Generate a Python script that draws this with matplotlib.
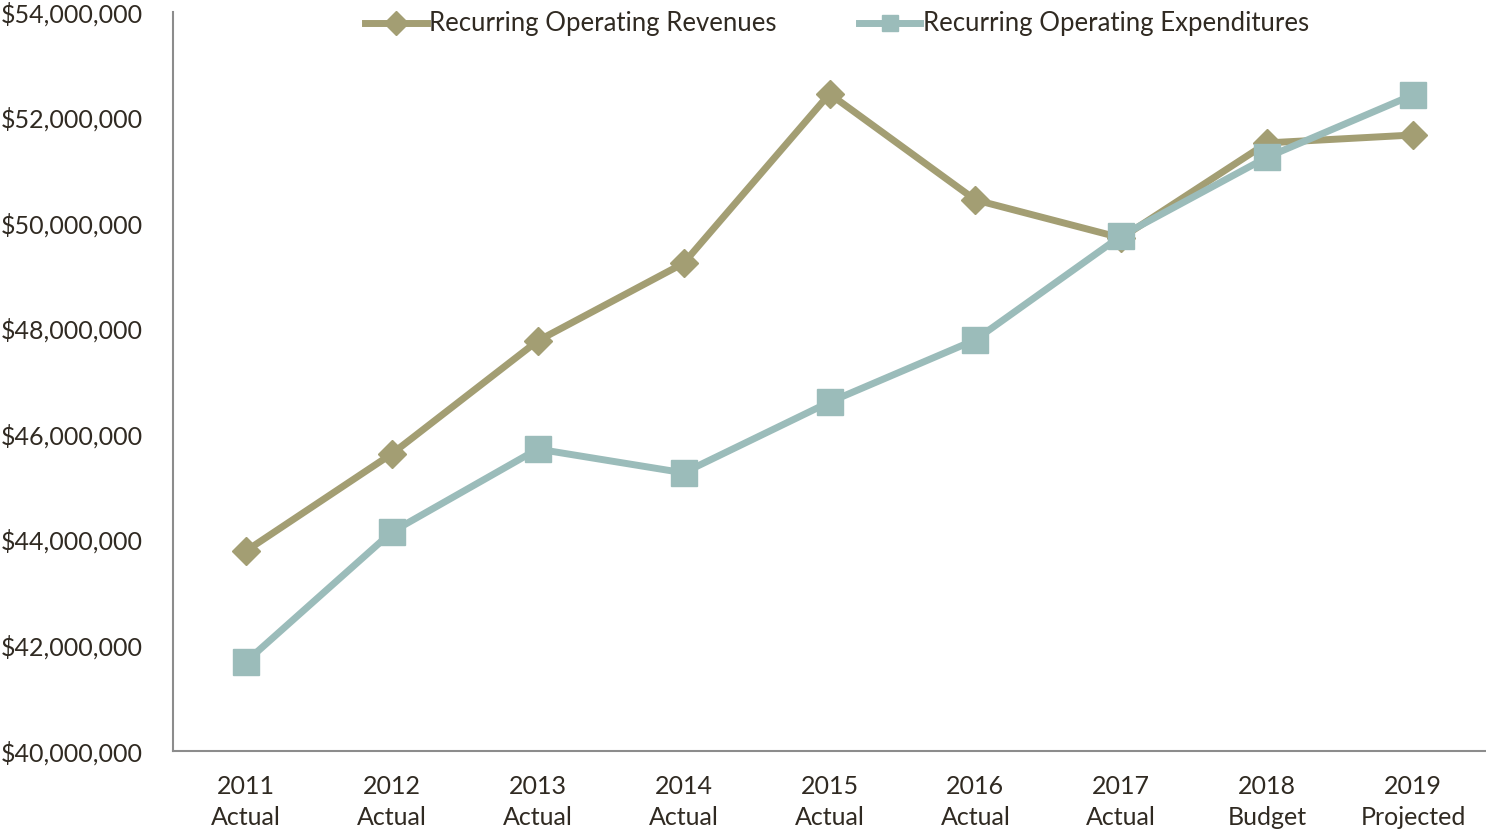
import matplotlib
matplotlib.use("Agg")
import matplotlib.pyplot as plt
from matplotlib.ticker import FuncFormatter

categories = ["2011\nActual", "2012\nActual", "2013\nActual", "2014\nActual", "2015\nActual",
              "2016\nActual", "2017\nActual", "2018\nBudget", "2019\nProjected"]
revenues = [43.79e6, 45.63e6, 47.77e6, 49.24e6, 52.45e6, 50.44e6, 49.72e6, 51.52e6, 51.67e6]
expenditures = [41.69e6, 44.15e6, 45.72e6, 45.27e6, 46.61e6, 47.79e6, 49.76e6, 51.25e6, 52.43e6]
series_names = ["Recurring Operating Revenues", "Recurring Operating Expenditures"]

rev_color = "#A39E73"
exp_color = "#9BBCBA"
text_color = "#302A22"

plt.rcParams['font.family'] = ['Lato', 'DejaVu Sans']

fig = plt.figure(figsize=(14.86, 8.36), dpi=100)
ax = fig.add_axes([173/1486, 1 - 751/836, 1 - 173/1486, (751 - 12)/836])

x = list(range(len(categories)))
ax.plot(x, revenues, color=rev_color, lw=5, marker='D', markersize=14,
        markerfacecolor=rev_color, markeredgecolor=rev_color, label=series_names[0],
        solid_joinstyle='round')
ax.plot(x, expenditures, color=exp_color, lw=5, marker='s', markersize=18.5,
        markerfacecolor=exp_color, markeredgecolor=exp_color, label=series_names[1],
        solid_joinstyle='round')

ax.set_xlim(-0.5, len(categories) - 0.5)
ax.set_ylim(40e6, 54e6)
ax.set_yticks([40e6 + i * 2e6 for i in range(8)])
ax.yaxis.set_major_formatter(FuncFormatter(lambda v, p: "${:,.0f}".format(v)))
ax.set_xticks(x)
ax.set_xticklabels(categories, linespacing=1.42)

for s in ['top', 'right']:
    ax.spines[s].set_visible(False)
for s in ['left', 'bottom']:
    ax.spines[s].set_color('#8C8C8C')
    ax.spines[s].set_linewidth(1.5)

ax.tick_params(axis='both', length=0, labelsize=18, colors=text_color)
ax.tick_params(axis='y', pad=21.5)
ax.tick_params(axis='x', pad=17.5)
for lab in ax.get_yticklabels():
    lab.set_color(text_color)

leg = fig.legend(loc='center', bbox_to_anchor=(837/1486, 1 - 24/836), ncol=2, frameon=False,
                 fontsize=18.5, handlelength=2.4, columnspacing=3.2, handletextpad=0.1,
                 labelcolor=text_color)
for h in leg.legend_handles:
    h.set_markersize(12)

fig.savefig("out.png", dpi=100)
